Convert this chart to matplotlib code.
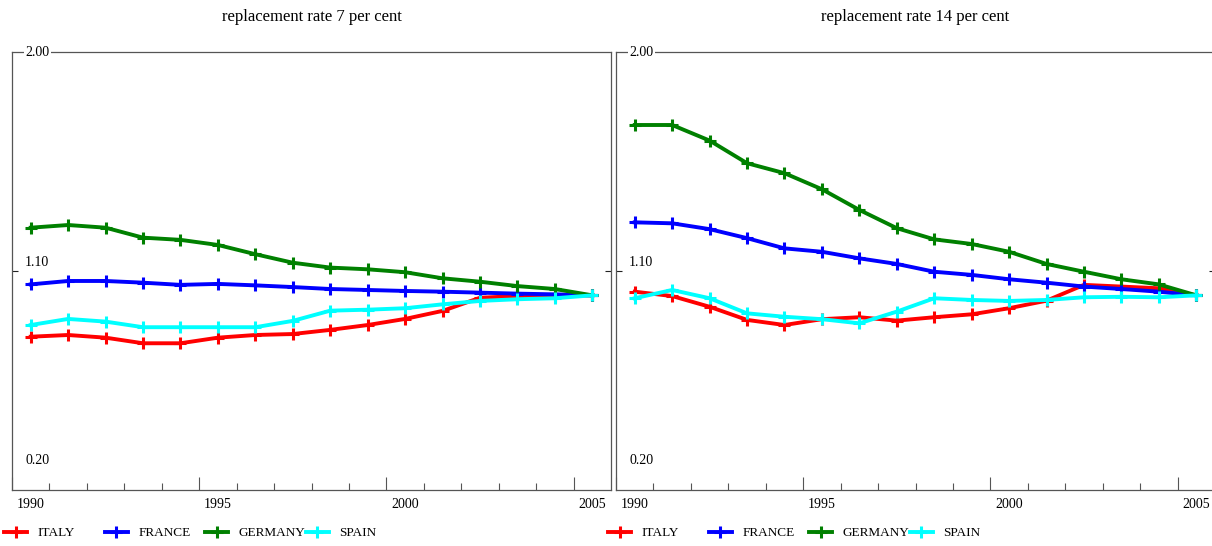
import matplotlib
matplotlib.use("Agg")
import matplotlib.pyplot as plt
from matplotlib.lines import Line2D
from matplotlib.transforms import blended_transform_factory

plt.rcParams["font.family"] = ["Liberation Serif", "DejaVu Serif"]

years = list(range(1990, 2006))
countries = ["ITALY", "FRANCE", "GERMANY", "SPAIN"]
colors = ["#ff0000", "#0000ff", "#008000", "#00ffff"]
titles = ["replacement rate 7 per cent", "replacement rate 14 per cent"]

# replacement rate 7 per cent
italy_7 = [0.830, 0.837, 0.826, 0.803, 0.803, 0.826, 0.837, 0.841,
           0.858, 0.878, 0.903, 0.936, 0.990, 0.997, 0.998, 1.000]
france_7 = [1.045, 1.059, 1.059, 1.052, 1.043, 1.047, 1.041, 1.034,
            1.026, 1.022, 1.018, 1.015, 1.011, 1.007, 1.004, 1.000]
germany_7 = [1.278, 1.289, 1.278, 1.237, 1.228, 1.207, 1.169, 1.134,
             1.114, 1.107, 1.095, 1.070, 1.056, 1.038, 1.026, 1.000]
spain_7 = [0.878, 0.903, 0.892, 0.869, 0.869, 0.869, 0.869, 0.895,
           0.937, 0.941, 0.947, 0.963, 0.977, 0.984, 0.988, 1.000]

# replacement rate 14 per cent
italy_14 = [1.015, 0.997, 0.953, 0.899, 0.878, 0.902, 0.910, 0.896,
            0.910, 0.922, 0.947, 0.978, 1.043, 1.036, 1.029, 1.000]
france_14 = [1.300, 1.296, 1.272, 1.235, 1.193, 1.179, 1.152, 1.129,
             1.097, 1.084, 1.066, 1.052, 1.036, 1.026, 1.015, 1.000]
germany_14 = [1.700, 1.700, 1.636, 1.543, 1.502, 1.436, 1.351, 1.276,
              1.230, 1.211, 1.179, 1.129, 1.097, 1.066, 1.045, 1.000]
spain_14 = [0.988, 1.022, 0.988, 0.926, 0.912, 0.902, 0.885, 0.933,
            0.988, 0.981, 0.977, 0.981, 0.992, 0.994, 0.992, 1.000]

panels = [
    [italy_7, france_7, germany_7, spain_7],
    [italy_14, france_14, germany_14, spain_14],
]
ytick_vals = [2.0, 1.1, 0.2]
ytick_text = ["2.00", "1.10", "0.20"]
xlabel_years = [1990, 1995, 2000, 2005]

W, H = 1212, 546
fig = plt.figure(figsize=(W / 100, H / 100), dpi=100)
ax_left_px = [12, 616]
ax_w_px, ax_top_px, ax_bot_px = 599, 52, 490

spine_col = "#555555"
line_kw = dict(lw=2.8, marker="+", ms=9, mew=2.2)
for p, series in enumerate(panels):
    x0 = ax_left_px[p]
    ax = fig.add_axes([x0 / W, (H - ax_bot_px) / H, ax_w_px / W,
                       (ax_bot_px - ax_top_px) / H])
    xs = [y + 0.5 for y in years]
    for name, col, vals in zip(countries, colors, series):
        ax.plot(xs, vals, color=col, **line_kw)

    ax.set_xlim(1990, 2006)
    ax.set_ylim(0.2, 2.0)
    for s in ax.spines.values():
        s.set_color(spine_col)
        s.set_linewidth(0.9)

    ax.set_xticks(xlabel_years)
    ax.set_xticks([y for y in years if y not in xlabel_years], minor=True)
    ax.tick_params(axis="x", which="major", direction="in", length=9.5,
                   width=0.8, color=spine_col, labelbottom=False)
    ax.tick_params(axis="x", which="minor", direction="in", length=5,
                   width=0.8, color=spine_col)
    ax.set_yticks([1.1])
    ax.tick_params(axis="y", direction="in", length=4, width=0.8,
                   color="#222222", left=True, right=True, labelleft=False)

    trx = blended_transform_factory(ax.transData, ax.transAxes)
    for yr in xlabel_years:
        ax.text(yr + 0.5, -15 / 438, str(yr), transform=trx, ha="center",
                va="center", fontsize=10)

    try_ = blended_transform_factory(ax.transAxes, ax.transData)
    offsets = [0.0, 0.033, 0.123]
    for v, t, off in zip(ytick_vals, ytick_text, offsets):
        kw = {}
        if v == 2.0:
            kw["bbox"] = dict(facecolor="white", edgecolor="none", pad=1)
        ax.text(13 / ax_w_px, v + off, t, transform=try_, ha="left",
                va="center", fontsize=10, **kw)

    ax.text(0.5, 1 + 35 / 438, titles[p], transform=ax.transAxes,
            ha="center", va="center", fontsize=12)

    for k, (name, col) in enumerate(zip(countries, colors)):
        h = Line2D([], [], color=col, **line_kw)
        fig.legend(handles=[h], labels=[name], loc="center left",
                   bbox_to_anchor=((x0 - 8 + k * 100.5) / W, 13 / H),
                   frameon=False, borderpad=0, borderaxespad=0,
                   handlelength=1.75, handletextpad=0.8, fontsize=9.5)

fig.savefig("out.png", dpi=100)
